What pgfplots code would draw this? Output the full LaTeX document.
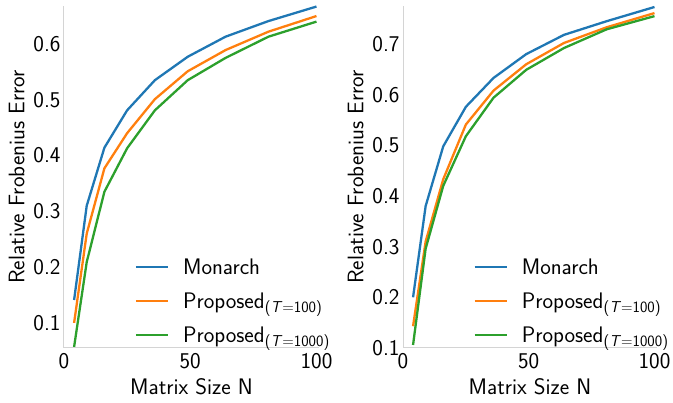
\documentclass[border=0pt]{standalone}
\usepackage{pgfplots}
\pgfplotsset{compat=1.18}
\renewcommand{\familydefault}{\sfdefault}
\definecolor{tabblue}{HTML}{1F77B4}
\definecolor{taborange}{HTML}{FF7F0E}
\definecolor{tabgreen}{HTML}{2CA02C}

% N = 4, 9, ..., 100
\pgfplotstableread{
N   mon    p100   p1000
4   0.141  0.100  0.057
9   0.310  0.260  0.209
16  0.414  0.377  0.335
25  0.481  0.440  0.413
36  0.535  0.501  0.481
49  0.577  0.551  0.535
64  0.613  0.589  0.575
81  0.641  0.622  0.613
100 0.667  0.650  0.640
}\leftdata
\pgfplotstableread{
N   mon    p100   p1000
4   0.200  0.143  0.106
9   0.380  0.310  0.296
16  0.498  0.433  0.420
25  0.576  0.541  0.518
36  0.633  0.608  0.594
49  0.680  0.660  0.649
64  0.718  0.702  0.692
81  0.745  0.733  0.729
100 0.773  0.761  0.755
}\rightdata

\pgfplotsset{frob/.style={
  scale only axis, width=255pt, height=342pt,
  axis lines=left,
  axis line style={-, draw=black!17, line width=1pt},
  xmin=0, xmax=101, xtick={0,50,100},
  major tick length=0pt,
  /pgf/number format/assume math mode=true,
  tick label style={font=\fontsize{22.5}{26}\selectfont},
  xticklabel style={yshift=-2pt},
  yticklabel style={/pgf/number format/fixed, /pgf/number format/precision=1, /pgf/number format/fixed zerofill},
  label style={font=\fontsize{22.5}{26}\selectfont},
  xlabel={Matrix Size N},
  ylabel={Relative Frobenius Error},
  xlabel style={yshift=-3pt},
  ylabel style={yshift=2pt},
  legend style={draw=none, fill=none, at={(0.265,0.0)}, anchor=south west,
    font=\fontsize{22.5}{26}\selectfont, row sep=13pt,
    /tikz/every odd column/.append style={column sep=12pt}},
  legend cell align=left,
  legend image code/.code={\draw[#1] (0pt,0pt) -- (32pt,0pt);},
  every axis plot/.append style={line width=2.3pt, line join=round},
}}

\begin{document}
\begin{tikzpicture}
\useasboundingbox (0,0) rectangle (673pt,403pt);
\begin{axis}[frob, at={(64pt,55pt)}, anchor=south west,
  ymin=0.055, ymax=0.668, ytick={0.1,0.2,0.3,0.4,0.5,0.6}]
\addplot[tabblue] table[x=N,y=mon]{\leftdata};
\addplot[taborange] table[x=N,y=p100]{\leftdata};
\addplot[tabgreen] table[x=N,y=p1000]{\leftdata};
\legend{Monarch, Proposed\textsubscript{(\textit{T}=100)}, Proposed\textsubscript{(\textit{T}=1000)}}
\end{axis}
\begin{axis}[frob, at={(403pt,55pt)}, anchor=south west, width=254pt,
  ymin=0.1, ymax=0.775, ytick={0.1,0.2,0.3,0.4,0.5,0.6,0.7}]
\addplot[tabblue] table[x=N,y=mon]{\rightdata};
\addplot[taborange] table[x=N,y=p100]{\rightdata};
\addplot[tabgreen] table[x=N,y=p1000]{\rightdata};
\legend{Monarch, Proposed\textsubscript{(\textit{T}=100)}, Proposed\textsubscript{(\textit{T}=1000)}}
\end{axis}
\end{tikzpicture}
\end{document}
